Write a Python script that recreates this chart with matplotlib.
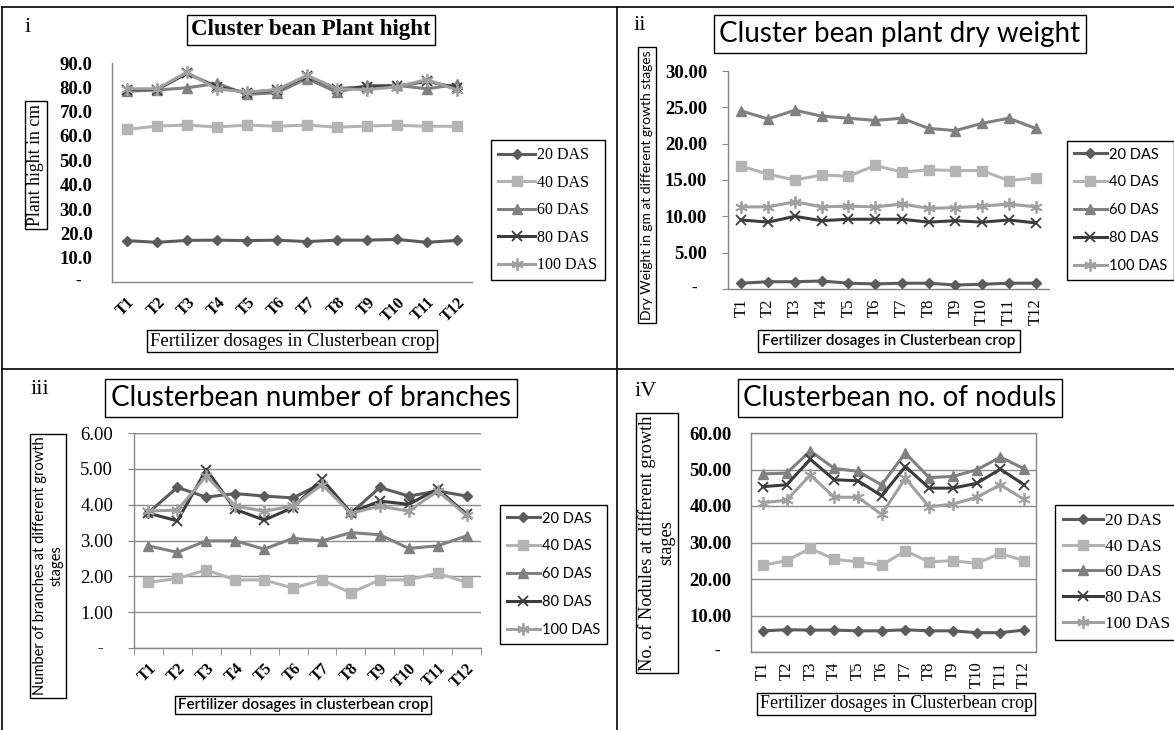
import numpy as np
import matplotlib
matplotlib.use('Agg')
import matplotlib.pyplot as plt
from matplotlib.lines import Line2D
from matplotlib.ticker import FuncFormatter

W, H = 1174, 730

treatments = ['T1', 'T2', 'T3', 'T4', 'T5', 'T6', 'T7', 'T8', 'T9', 'T10', 'T11', 'T12']
stages = ['20 DAS', '40 DAS', '60 DAS', '80 DAS', '100 DAS']

# i - plant height (cm)
height_20 = [17.0, 16.3, 17.1, 17.2, 17.0, 17.2, 16.6, 17.2, 17.2, 17.5, 16.3, 17.1]
height_40 = [62.7, 64.1, 64.5, 63.7, 64.5, 64.0, 64.5, 63.6, 64.1, 64.4, 64.0, 64.0]
height_60 = [78.4, 78.9, 79.8, 81.6, 77.1, 77.8, 83.6, 78.0, 80.8, 80.8, 79.4, 81.2]
height_80 = [79.1, 79.1, 85.7, 80.2, 77.8, 78.9, 84.6, 79.4, 80.2, 80.5, 82.5, 79.8]
height_100 = [79.4, 79.4, 86.2, 79.4, 78.0, 79.1, 84.9, 79.4, 79.1, 80.2, 83.2, 78.9]

# ii - dry weight (gm)
dry_20 = [0.8, 1.0, 1.0, 1.1, 0.8, 0.7, 0.8, 0.8, 0.55, 0.65, 0.8, 0.8]
dry_40 = [16.9, 15.8, 15.0, 15.7, 15.5, 17.0, 16.1, 16.4, 16.3, 16.3, 14.9, 15.3]
dry_60 = [24.5, 23.4, 24.6, 23.8, 23.5, 23.2, 23.5, 22.1, 21.8, 22.8, 23.5, 22.1]
dry_80 = [9.5, 9.2, 10.0, 9.4, 9.6, 9.6, 9.6, 9.2, 9.4, 9.2, 9.5, 9.1]
dry_100 = [11.3, 11.3, 12.0, 11.3, 11.4, 11.3, 11.7, 11.1, 11.2, 11.4, 11.7, 11.3]

# iii - number of branches
br_20 = [3.78, 4.48, 4.21, 4.31, 4.24, 4.19, 4.60, 3.76, 4.48, 4.24, 4.38, 4.24]
br_40 = [1.83, 1.94, 2.18, 1.90, 1.90, 1.67, 1.90, 1.54, 1.90, 1.90, 2.09, 1.83]
br_60 = [2.85, 2.67, 2.99, 2.99, 2.76, 3.06, 2.99, 3.22, 3.16, 2.78, 2.85, 3.13]
br_80 = [3.76, 3.55, 4.98, 3.87, 3.57, 3.92, 4.71, 3.78, 4.10, 4.01, 4.44, 3.73]
br_100 = [3.82, 3.85, 4.80, 3.96, 3.82, 3.96, 4.56, 3.76, 3.96, 3.82, 4.38, 3.70]

# iv - number of nodules
nod_20 = [5.8, 6.1, 6.0, 6.0, 5.8, 5.8, 6.1, 5.8, 5.8, 5.3, 5.3, 6.0]
nod_40 = [23.8, 25.0, 28.4, 25.4, 24.7, 23.8, 27.7, 24.7, 25.0, 24.3, 27.0, 25.0]
nod_60 = [48.8, 49.0, 55.1, 50.3, 49.5, 45.8, 54.5, 47.8, 48.1, 49.9, 53.4, 50.2]
nod_80 = [45.3, 45.8, 52.8, 47.2, 46.9, 42.8, 50.8, 44.9, 44.9, 46.2, 50.1, 45.8]
nod_100 = [40.9, 41.6, 48.5, 42.4, 42.4, 37.7, 47.6, 39.8, 40.5, 42.4, 45.8, 41.8]

colors = ['#5c5c5c', '#b4b4b4', '#808080', '#3c3c3c', '#a0a0a0']
markers = ['D', 's', '^', 'x', (6, 2, 0)]
msizes = [5.5, 7.5, 7.5, 7.5, 9]

SERIF = 'Liberation Serif'
SANS = 'Lato'
GREY = '#868686'

fig = plt.figure(figsize=(W / 100, H / 100), dpi=100)


def rect(x0, y0, x1, y1):
    return [x0 / W, 1 - y1 / H, (x1 - x0) / W, (y1 - y0) / H]


def boxed(x, y, s, fam, size, weight='normal', rot=0, pad=0.25):
    fig.text(x / W, 1 - y / H, s, ha='center', va='center', rotation=rot,
             family=fam, size=size, weight=weight, multialignment='center',
             bbox=dict(boxstyle='square,pad=%s' % pad, fc='white', ec='black', lw=1))


def panel(pos, series, ymax, ystep, dec, tickfam, tickweight, rot, xtickfam, xtickweight,
          legpos, legfam, legsize, legspace, grid=False, frame=False, ytickmarks=False,
          xtickmarks=False):
    ax = fig.add_axes(rect(*pos))
    x = np.arange(len(treatments)) + 0.5
    for i, vals in enumerate(series):
        mew = 1.3 if i >= 3 else 1
        ax.plot(x, vals, color=colors[i], lw=2.2, marker=markers[i], ms=msizes[i],
                mec=colors[i], mfc=colors[i], mew=mew, label=stages[i], zorder=3 + i)
    ax.set_xlim(0, 12)
    ax.set_ylim(0, ymax)
    ax.set_yticks(np.arange(0, ymax + ystep / 2, ystep))
    ax.yaxis.set_major_formatter(FuncFormatter(lambda v, p: '' if v == 0 else f'{v:.{dec}f}'))
    ax.annotate('-', xy=(0, 0), xycoords=('axes fraction', 'data'), xytext=(-34, 0),
                textcoords='offset pixels', ha='center', va='center',
                family=tickfam, weight=tickweight, size=12)
    for lab in ax.get_yticklabels():
        lab.set_family(tickfam)
        lab.set_weight(tickweight)
        lab.set_size(13.5)
    ax.tick_params(axis='y', length=4 if ytickmarks else 0, color=GREY, pad=11 if ytickmarks else 14)
    ax.set_xticks(x)
    if rot == 45:
        ax.set_xticklabels(treatments, rotation=45, ha='right', rotation_mode='anchor',
                           family=xtickfam, weight=xtickweight, size=11.5)
        ax.tick_params(axis='x', length=0, pad=9)
    else:
        ax.set_xticklabels(treatments, rotation=90, family=xtickfam, weight=xtickweight, size=12)
        ax.tick_params(axis='x', length=0, pad=7)
    if xtickmarks:
        ax.set_xticks(np.arange(13), minor=True)
        ax.tick_params(axis='x', which='minor', length=5, color=GREY, direction='out')
    for side in ['top', 'right']:
        ax.spines[side].set_visible(frame)
    for s in ax.spines.values():
        s.set_color(GREY)
        s.set_linewidth(1)
    if grid:
        ax.yaxis.grid(True, color='#8c8c8c', lw=1)
        ax.set_axisbelow(True)
        if not frame:
            ax.axhline(ymax, color='#8c8c8c', lw=1, zorder=1)
    leg = ax.legend(loc='upper left', bbox_to_anchor=(legpos[0] / W, 1 - legpos[1] / H),
                    bbox_transform=fig.transFigure, borderaxespad=0, fancybox=False,
                    edgecolor='black', framealpha=1, prop=dict(family=legfam, size=legsize),
                    labelspacing=legspace, handlelength=2.3, handletextpad=0.15, borderpad=0.45)
    leg.get_frame().set_linewidth(1)
    return ax


# panel i
panel((112, 63, 472, 282), [height_20, height_40, height_60, height_80, height_100], 90, 10, 1,
      SERIF, 'bold', 45, SERIF, 'bold', (491, 140), SERIF, 11.5, 0.72)
boxed(311, 30, 'Cluster bean Plant hight', SERIF, 16.5, 'bold', pad=0.2)
boxed(36, 165, 'Plant hight in cm', SERIF, 12.8, rot=90, pad=0.15)
boxed(292, 341, 'Fertilizer dosages in Clusterbean crop', SERIF, 13.5, pad=0.15)

# panel ii
panel((728, 71, 1049, 289), [dry_20, dry_40, dry_60, dry_80, dry_100], 30, 5, 2,
      SERIF, 'bold', 90, SERIF, 'normal', (1067, 141), SANS, 10.5, 0.95, ytickmarks=True)
boxed(900, 34, 'Cluster bean plant dry weight', SANS, 20, pad=0.2)
boxed(647, 185, 'Dry Weight in gm at different growth stages', SANS, 10, rot=90, pad=0.2)
boxed(889, 341, 'Fertilizer dosages in Clusterbean crop', SANS, 11, 'semibold', pad=0.25)

# panel iii
panel((134, 433, 481, 648), [br_20, br_40, br_60, br_80, br_100], 6, 1, 2,
      SERIF, 'normal', 45, SERIF, 'bold', (500, 505), SANS, 10.5, 0.95, grid=True,
      ytickmarks=True, xtickmarks=True)
boxed(311, 398, 'Clusterbean number of branches', SANS, 20, pad=0.2)
boxed(48, 566, 'Number of branches at different growth\nstages', SANS, 10.5, rot=90, pad=0.2)
boxed(303, 705, 'Fertilizer dosages in clusterbean crop', SANS, 11, 'semibold', pad=0.15)

# panel iv
panel((751, 433, 1036, 652), [nod_20, nod_40, nod_60, nod_80, nod_100], 60, 10, 2,
      SERIF, 'bold', 90, SERIF, 'normal', (1055, 505), SERIF, 12.5, 0.55, grid=True, frame=True)
boxed(900, 398, 'Clusterbean no. of noduls', SANS, 20, pad=0.2)
boxed(657, 543, 'No. of Nodules at different growth\nstages', SERIF, 13.2, rot=90, pad=0.12)
boxed(896, 704, 'Fertilizer dosages in Clusterbean crop', SERIF, 13, pad=0.12)

# panel numbers
for s, (px, py) in zip(['i', 'ii', 'iii', 'iV'], [(28, 28), (640, 26), (40, 390), (646, 392)]):
    fig.text(px / W, 1 - py / H, s, family=SERIF, size=16, ha='center', va='center')

# table borders
for (x0, y0, x1, y1) in [(2, 7, W, 7), (2, 369, W, 369), (2, 7, 2, H), (617, 7, 617, H)]:
    fig.add_artist(Line2D([x0 / W, x1 / W], [1 - y0 / H, 1 - y1 / H],
                          transform=fig.transFigure, color='black', lw=1.2))

fig.savefig('out.png', dpi=100)
